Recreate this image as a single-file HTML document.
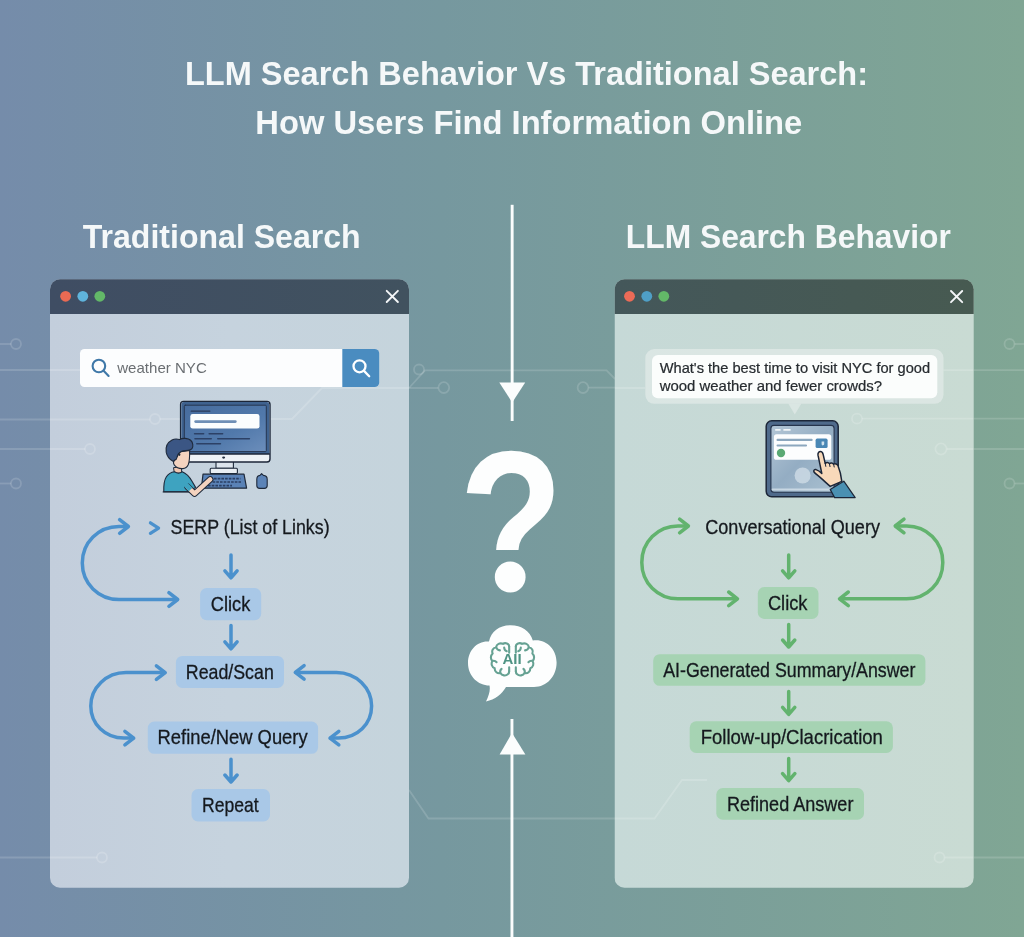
<!DOCTYPE html>
<html lang="en">
<head>
<meta charset="utf-8">
<title>LLM Search Behavior Vs Traditional Search</title>
<style>
html,body{margin:0;padding:0;background:#76989f;}
body{width:1024px;height:937px;overflow:hidden;font-family:"Liberation Sans",sans-serif;}
svg{display:block;will-change:transform;}
text{font-family:"Liberation Sans",sans-serif;}
.h{font-weight:700;fill:#f5f8f9;}
.lbl{fill:#15191e;font-size:20.7px;stroke:#15191e;stroke-width:.3px;}
.ba{fill:none;stroke:#4b91cd;stroke-width:3.5;stroke-linecap:round;stroke-linejoin:round;}
.ga{fill:none;stroke:#62b36e;stroke-width:3.5;stroke-linecap:round;stroke-linejoin:round;}
.ck{fill:none;stroke:#ffffff;stroke-opacity:.15;stroke-width:1.8;}
</style>
</head>
<body>
<svg width="1024" height="937" viewBox="0 0 1024 937">
<defs>
  <linearGradient id="bg" x1="0" y1="0" x2="1" y2="0">
    <stop offset="0" stop-color="#758caa"/>
    <stop offset="0.43" stop-color="#76989f"/>
    <stop offset="1" stop-color="#80a694"/>
  </linearGradient>
  <linearGradient id="tbL" x1="0" y1="0" x2="1" y2="0">
    <stop offset="0" stop-color="#3f4d63"/>
    <stop offset="1" stop-color="#41525f"/>
  </linearGradient>
  <linearGradient id="tbR" x1="0" y1="0" x2="1" y2="0">
    <stop offset="0" stop-color="#44575a"/>
    <stop offset="1" stop-color="#475a51"/>
  </linearGradient>
  <linearGradient id="pL" x1="0" y1="0" x2="1" y2="0">
    <stop offset="0" stop-color="#c3cedc"/>
    <stop offset="0.5" stop-color="#c6d3de"/>
    <stop offset="1" stop-color="#c5d4dc"/>
  </linearGradient>
  <linearGradient id="pR" x1="0" y1="0" x2="1" y2="0">
    <stop offset="0" stop-color="#c6d9d7"/>
    <stop offset="1" stop-color="#c9dbd3"/>
  </linearGradient>
  <clipPath id="cL"><rect x="50" y="279.3" width="359" height="608.4" rx="10"/></clipPath>
  <clipPath id="cR"><rect x="614.5" y="279.2" width="359.2" height="608.5" rx="10"/></clipPath>
</defs>

<!-- BACKGROUND -->
<rect width="1024" height="937" fill="url(#bg)"/>
<g id="circuit-bg" class="ck">
  <path d="M0 344 H11"/><circle cx="16" cy="344" r="5"/>
  <path d="M0 370 H50"/>
  <path d="M0 419.5 H50"/>
  <path d="M0 449 H50"/>
  <path d="M0 483.5 H11"/><circle cx="16" cy="483.5" r="5"/>
  <path d="M0 857.5 H50"/>
  <circle cx="419" cy="369.5" r="5"/>
  <path d="M409 388 L425 370.3 H606.6 L615 379"/>
  <path d="M409 388 H438.4"/><circle cx="443.8" cy="387.6" r="5.4"/>
  <circle cx="583" cy="387.6" r="5.4"/><path d="M588.4 387.6 H615"/>
  <path d="M409 790 L428.5 818.5 H615"/>
  <path d="M1024 344 H1014.5"/><circle cx="1009.5" cy="344" r="5"/>
  <path d="M973 418.7 H1024"/><path d="M973 370.2 H1024"/>
  <path d="M973 449 H1024"/>
  <path d="M1024 483.5 H1014.5"/><circle cx="1009.5" cy="483.5" r="5"/>
  <path d="M973 857.5 H1024"/>
</g>

<!-- TITLE -->
<text class="h" x="526.5" y="85" font-size="32.5" text-anchor="middle" textLength="683" lengthAdjust="spacingAndGlyphs">LLM Search Behavior Vs Traditional Search:</text>
<text class="h" x="528.8" y="134.2" font-size="32.5" text-anchor="middle" textLength="547" lengthAdjust="spacingAndGlyphs">How Users Find Information Online</text>

<!-- SECTION HEADINGS -->
<text class="h" x="221.7" y="248.2" font-size="32.5" text-anchor="middle" textLength="278" lengthAdjust="spacingAndGlyphs">Traditional Search</text>
<text class="h" x="788.3" y="248.2" font-size="32.5" text-anchor="middle" textLength="325" lengthAdjust="spacingAndGlyphs">LLM Search Behavior</text>

<!-- CENTER COLUMN -->
<g id="center">
  <!-- top arrow -->
  <rect x="510.7" y="204.8" width="2.9" height="216.2" fill="#fbfdfd"/>
  <path d="M499.3 382.6 L525.2 382.6 L512.2 402.5 Z" fill="#fbfdfd"/>
  <!-- bottom arrow -->
  <rect x="510.5" y="719" width="2.9" height="218" fill="#fbfdfd"/>
  <path d="M499.6 754.4 L525.4 754.4 L512 733 Z" fill="#fbfdfd"/>
  <!-- question mark -->
  <clipPath id="qclip"><rect x="440" y="430" width="140" height="126"/></clipPath>
  <g clip-path="url(#qclip)"><g transform="translate(511.0 591.7) scale(0.862 1.018)"><text id="qm" x="0" y="0" font-size="198" font-weight="700" text-anchor="middle" fill="#fdfefe">?</text></g></g>
  <circle cx="510.2" cy="577" r="15.4" fill="#fdfefe"/>
  <!-- AI cloud -->
  <g id="cloud">
    <path d="M486 701.5 C489 695 490.5 690 489.5 685.5 C478 685.5 468 676 468 663 C468 650 477.5 640.5 489 641.5 C491 631.5 499.5 625.3 510.5 625.3 C521.5 625.3 530 631 532.8 640.5 C546 638.5 556.6 649 556.6 662.5 C556.6 676 547 687 534 687 L506 687 C502 694 495 699.5 486 701.5 Z" fill="#fdfefe"/>
    <g fill="none" stroke="#66a293" stroke-width="2" stroke-linecap="round" stroke-linejoin="round" transform="translate(512.5 658.9) scale(1.04) translate(-512.5 -657.4)">
      <path d="M509.3 645.5 C509.3 642.6 505.5 641.3 503.3 643 C500.5 641.6 497 643.3 496.8 646.2 C493.8 646.6 492.2 649.6 493.4 652.2 C491.2 654.2 491.2 657.6 493.2 659.4 C491.6 662 492.6 665.4 495.4 666.4 C495.2 669.6 498 671.8 500.8 671 C502.4 673.6 506 674 508 672.2 C509 671.4 509.3 670.4 509.3 669.2"/>
      <path d="M509.3 645.5 L509.3 651.5 M509.3 665.5 L509.3 669.2"/>
      <path d="M515.7 645.5 C515.7 642.6 519.5 641.3 521.7 643 C524.5 641.6 528 643.3 528.2 646.2 C531.2 646.6 532.8 649.6 531.6 652.2 C533.8 654.2 533.8 657.6 531.8 659.4 C533.4 662 532.4 665.4 529.6 666.4 C529.8 669.6 527 671.8 524.2 671 C522.6 673.6 519 674 517 672.2 C516 671.4 515.7 670.4 515.7 669.2"/>
      <path d="M515.7 645.5 L515.7 651.5 M515.7 665.5 L515.7 669.2"/>
      <path d="M496.8 646.2 C497.4 648 498.6 649 500.4 649.2 M493.2 659.4 C494.8 659 496.2 659.4 497.2 660.6 M500.8 671 C500.4 669.4 500.8 668 502 667 M504.5 646.5 C504.5 648.5 505.5 649.5 507 650"/>
      <path d="M528.2 646.2 C527.6 648 526.4 649 524.6 649.2 M531.8 659.4 C530.2 659 528.8 659.4 527.8 660.6 M524.2 671 C524.6 669.4 524.2 668 523 667 M520.5 646.5 C520.5 648.5 519.5 649.5 518 650"/>
    </g>
    <text x="512" y="664.2" font-size="15.4" font-weight="700" text-anchor="middle" fill="#4f9484" textLength="19.2" lengthAdjust="spacingAndGlyphs">AII</text>
  </g>
</g>

<!-- LEFT PANEL -->
<g id="left-panel">
  <g clip-path="url(#cL)">
    <rect x="50" y="279" width="359" height="609" fill="url(#pL)"/>
    <g id="circuit-left" fill="none" stroke="#ffffff" stroke-opacity=".17" stroke-width="1.8">
      <path d="M50 370 H80"/>
      <path d="M50 419.5 H150"/><circle cx="155" cy="419" r="5"/>
      <path d="M160 419 H292 L322 388 H409"/>
      <path d="M50 449 H85"/><circle cx="90" cy="449" r="5"/>
      <path d="M50 857.5 H97"/><circle cx="102" cy="857.5" r="5"/>
    </g>
    <rect x="50" y="279" width="359" height="35" fill="url(#tbL)"/>
  </g>
  <circle cx="65.6" cy="296.3" r="5.4" fill="#e96a53"/>
  <circle cx="82.8" cy="296.3" r="5.4" fill="#5fb4dc"/>
  <circle cx="99.8" cy="296.3" r="5.4" fill="#63b868"/>
  <path d="M386.7 290.8 L397.9 302 M397.9 290.8 L386.7 302" stroke="#f4f6f8" stroke-width="1.9" stroke-linecap="round" fill="none"/>

  <!-- search bar -->
  <rect x="80" y="349" width="299.3" height="38" rx="4.5" fill="#fcfdfe"/>
  <path d="M342.3 349 H374.8 A4.5 4.5 0 0 1 379.3 353.5 V382.5 A4.5 4.5 0 0 1 374.8 387 H342.3 Z" fill="#4a8cc0"/>
  <g fill="none" stroke="#3f78a8" stroke-width="2.1" stroke-linecap="round">
    <circle cx="98.9" cy="366" r="6.3"/>
    <path d="M103.6 370.8 L108.6 376"/>
  </g>
  <g fill="none" stroke="#ffffff" stroke-width="2.3" stroke-linecap="round">
    <circle cx="359.5" cy="366.3" r="6"/>
    <path d="M364 370.9 L369.2 376.2"/>
  </g>
  <text x="117.2" y="373.3" font-size="14.6" fill="#6a6e72" textLength="89.6" lengthAdjust="spacingAndGlyphs">weather NYC</text>

  <g id="illus-left" stroke-linejoin="round" stroke-linecap="round">
    <defs>
      <linearGradient id="mscr" x1="0" y1="0" x2="1" y2="1">
        <stop offset="0" stop-color="#476c9e"/>
        <stop offset="0.6" stop-color="#5179ab"/>
        <stop offset="1" stop-color="#6c8ebb"/>
      </linearGradient>
    </defs>
    <!-- stand -->
    <path d="M216 461.5 H233.4 V468.4 H216 Z" fill="#dde4ec" stroke="#1f2a3b" stroke-width="1.1"/>
    <rect x="210.2" y="468.2" width="27.2" height="5.4" rx="1" fill="#e9eef3" stroke="#1f2a3b" stroke-width="1.1"/>
    <!-- monitor -->
    <rect x="180.6" y="401.4" width="89.4" height="60.6" rx="3" fill="#eef2f6" stroke="#1c2638" stroke-width="1.4"/>
    <path d="M181.3 404.4 A2.4 2.4 0 0 1 183.7 402.1 H266.9 A2.4 2.4 0 0 1 269.3 404.4 V454 H181.3 Z" fill="#3f628f"/>
    <rect x="184.3" y="405.2" width="82" height="46.4" rx="1" fill="url(#mscr)" stroke="#263650" stroke-width="1"/>
    <path d="M181.3 454 H269.3" stroke="#1c2638" stroke-width="1.6" fill="none"/>
    <ellipse cx="223.6" cy="457.6" rx="1.5" ry="1.1" fill="#232d3f"/>
    <path d="M191.2 411.2 H209.8" stroke="#2a3a58" stroke-width="1.3" fill="none"/>
    <rect x="190.3" y="414" width="69.2" height="14.6" rx="2.4" fill="#fbfdfe"/>
    <path d="M195.6 421.6 H235.4" stroke="#6f8fb6" stroke-width="2.6" fill="none"/>
    <g stroke="#2c4166" stroke-width="1.6" fill="none">
      <path d="M194.6 433.8 H203.6 M209.2 433.8 H222.6"/>
      <path d="M195 438.8 H211.2 M217.8 438.8 H249.4"/>
      <path d="M196.8 443.8 H220.4"/>
    </g>
    <!-- keyboard -->
    <path d="M203 474.2 H244 L246.6 488.2 H201.4 Z" fill="#5a82b6" stroke="#1f2a3b" stroke-width="1.2"/>
    <path d="M214 478.6 H240.4 M212.6 482 H241 M208 485.6 H232" stroke="#2b3f63" stroke-width="1.7" fill="none" stroke-dasharray="2.6 1.1" stroke-linecap="butt"/>
    <!-- mouse -->
    <path d="M256.8 479.2 C256.8 476.6 258.6 475.6 260 475.4 L261.6 473.6 L263.4 475.4 C265.2 475.6 267.2 476.6 267.2 479.2 V485.6 C267.2 487.4 266 488.4 264.4 488.4 H259.6 C258 488.4 256.8 487.4 256.8 485.6 Z" fill="#5c84b8" stroke="#1f2a3b" stroke-width="1.1"/>
    <!-- person -->
    <path d="M173.6 468 L174.4 473.4 L181.8 473.4 L181.4 467.4 Z" fill="#f0c6b0" stroke="#1f2a3b" stroke-width="1"/>
    <path d="M163.8 491.8 C163.6 485.6 164 480.4 166.4 476.8 C168.4 473.8 171.6 472.2 174.6 471.8 C177.2 473.6 179.8 473.6 182.2 471.8 C186.2 473.4 189.4 476.8 192 481.2 L195.6 487.4 L188.8 491.8 Z" fill="#3ea3c0" stroke="#1f2a3b" stroke-width="1.1"/>
    <path d="M163.2 491.9 H189" stroke="#1f2a3b" stroke-width="1.2" fill="none"/>
    <path d="M187.6 486.8 L194.6 493.6 L210.2 479.4" stroke="#1f2a3b" stroke-width="6.6" fill="none"/>
    <path d="M187.6 486.8 L194.6 493.6 L210.2 479.4" stroke="#f4d3bf" stroke-width="4.5" fill="none"/>
    <path d="M184.6 483.6 L190.6 489.6" stroke="#3ea3c0" stroke-width="5" fill="none" stroke-linecap="butt"/>
    <path d="M175.2 459.8 C173.6 461 173.2 463.4 174.4 465.2 C176.4 467.8 179.4 468.8 182.8 468.6 C185.4 468.4 187.2 467 188.2 464.8 C189.4 461.8 189.8 457.6 189.6 450.4 L179 452 Z" fill="#f4d3bf" stroke="#1f2a3b" stroke-width="1.1"/>
    <path d="M173.4 461.6 C170 459.8 167 456.6 166.2 452.2 C165.4 447 167.6 442.4 172 440 C174.6 438.6 177.4 438.8 179.6 439.6 C181.4 438.4 183.4 438.2 185.4 438.4 C189.2 438.8 192.4 441 192.8 444.6 C193.2 448 191 450 188.2 450.4 C185.4 450.8 183.4 450.4 181.2 451.6 C178.6 453 177.4 455.2 177 457.4 C176.6 459 176 459.8 175.2 459.8 C174 460 173.6 460.8 173.4 461.6 Z" fill="#3b5684" stroke="#1f2a3b" stroke-width="1.1"/>
    <ellipse cx="179.4" cy="454.6" rx="1" ry="1.3" fill="#1f2a3b"/>
  </g>

  <!-- flow -->
  <g id="flow-left">
    <path class="ba" d="M150.4 522.8 L158.6 528.1 L150.4 533.4" style="stroke-width:3.2"/>
    <text class="lbl" x="250.1" y="534.2" text-anchor="middle" textLength="159" lengthAdjust="spacingAndGlyphs">SERP (List of Links)</text>

    <path class="ba" d="M231 555.0 V576.8 M224.9 570.8 L231 577.8 L237.1 570.8"/>
    <rect x="200.1" y="588" width="61.1" height="32.2" rx="6.5" fill="#a9c8e7"/>
    <text class="lbl" x="230.6" y="611.2" text-anchor="middle" textLength="39.5" lengthAdjust="spacingAndGlyphs">Click</text>

    <path class="ba" d="M127.6 526.5 H119 C98.5 526.5 82.3 542.5 82.3 563 C82.3 583.5 98.5 599.5 119 599.5 H176.8"/>
    <path class="ba" d="M119.6 519.7 L128.4 526.5 L119.6 533.3"/>
    <path class="ba" d="M168.9 592.7 L177.7 599.5 L168.9 606.3"/>

    <path class="ba" d="M231 625.6 V647.8 M224.9 641.8 L231 648.8 L237.1 641.8"/>
    <rect x="175.9" y="655.9" width="108.1" height="32" rx="6.5" fill="#a9c8e7"/>
    <text class="lbl" x="229.8" y="678.8" text-anchor="middle" textLength="88" lengthAdjust="spacingAndGlyphs">Read/Scan</text>

    <rect x="147.8" y="721.6" width="170.3" height="32.2" rx="6.5" fill="#a9c8e7"/>
    <text class="lbl" x="232.6" y="744.4" text-anchor="middle" textLength="150" lengthAdjust="spacingAndGlyphs">Refine/New Query</text>

    <path class="ba" d="M164.4 672.6 H126 C106 672.6 90.8 688 90.8 706 C90.8 724 105 738.1 124 738.1 H132.8"/>
    <path class="ba" d="M156.4 665.8 L165.2 672.6 L156.4 679.4"/>
    <path class="ba" d="M124.9 731.3 L133.7 738.1 L124.9 744.9"/>

    <path class="ba" d="M296.2 672.4 H336.4 C356.4 672.4 371.6 688 371.6 706 C371.6 724 357.4 738.1 338.4 738.1 H330.9"/>
    <path class="ba" d="M304.1 665.6 L295.3 672.4 L304.1 679.2"/>
    <path class="ba" d="M338.8 731.3 L330.0 738.1 L338.8 744.9"/>

    <path class="ba" d="M231 759.2 V781.0 M224.9 775.0 L231 782.0 L237.1 775.0"/>
    <rect x="191.5" y="789" width="78.5" height="32.5" rx="6.5" fill="#a9c8e7"/>
    <text class="lbl" x="230.4" y="811.6" text-anchor="middle" textLength="56.6" lengthAdjust="spacingAndGlyphs">Repeat</text>
  </g>
</g>

<!-- RIGHT PANEL -->
<g id="right-panel">
  <g clip-path="url(#cR)">
    <rect x="614.5" y="279" width="360" height="609" fill="url(#pR)"/>
    <g id="circuit-right" fill="none" stroke="#ffffff" stroke-opacity=".17" stroke-width="1.8">
      <path d="M615 388 H645"/>
      <circle cx="857" cy="418.7" r="5"/><path d="M862 418.7 H973"/><path d="M943.5 370.2 H973"/>
      <circle cx="941" cy="449" r="5.6"/><path d="M946.6 449 H973"/>
      <path d="M615 818.5 H654.5 L682 780 H707"/>
      <circle cx="939.5" cy="857.5" r="5"/><path d="M944.5 857.5 H973"/>
    </g>
    <rect x="614.5" y="279" width="360" height="35" fill="url(#tbR)"/>
  </g>
  <circle cx="629.5" cy="296.3" r="5.4" fill="#ec6b57"/>
  <circle cx="646.8" cy="296.3" r="5.4" fill="#4f9fc6"/>
  <circle cx="663.8" cy="296.3" r="5.4" fill="#63b868"/>
  <path d="M951 291 L962.2 302.2 M962.2 291 L951 302.2" stroke="#f4f6f8" stroke-width="1.9" stroke-linecap="round" fill="none"/>

  <!-- chat bubble -->
  <rect x="645.3" y="349" width="298.2" height="54.8" rx="9" fill="#e6eeec" fill-opacity=".62"/>
  <path d="M788.2 403.4 H801.4 L794.8 414.6 Z" fill="#dfe9e6" fill-opacity=".8"/>
  <rect x="652" y="355" width="285.3" height="43.3" rx="6" fill="#fbfdfc"/>
  <text x="659.7" y="372.9" font-size="14.4" fill="#272c30" stroke="#272c30" stroke-width=".22" textLength="270.4" lengthAdjust="spacingAndGlyphs">What's the best time to visit NYC for good</text>
  <text x="659.7" y="390.5" font-size="14.4" fill="#272c30" stroke="#272c30" stroke-width=".22" textLength="222.3" lengthAdjust="spacingAndGlyphs">wood weather and fewer crowds?</text>

  <g id="illus-right" stroke-linejoin="round" stroke-linecap="round">
    <defs>
      <linearGradient id="scr" x1="0" y1="0" x2="1" y2="1">
        <stop offset="0" stop-color="#b3c6d6"/>
        <stop offset="0.5" stop-color="#94adc3"/>
        <stop offset="1" stop-color="#a9c0d0"/>
      </linearGradient>
    </defs>
    <rect x="766.2" y="420.8" width="72" height="76" rx="5.5" fill="#4f6a8b" stroke="#1c2638" stroke-width="1.5"/>
    <rect x="770.9" y="425.4" width="63.2" height="66.8" rx="3" fill="url(#scr)" stroke="#26344c" stroke-width="1.1"/>
    <path d="M772.6 489.6 H832.4" stroke="#d5e1ea" stroke-opacity=".8" stroke-width="2" fill="none"/>
    <path d="M775.2 429.8 H780.6 M783.4 429.8 H790.6" stroke="#f1f5f8" stroke-width="1.7" fill="none" stroke-linecap="butt"/>
    <rect x="773.9" y="434.2" width="57.4" height="25.6" rx="2.6" fill="#fcfdfe"/>
    <path d="M777.6 439.9 H811.6 M777.6 445.5 H806" stroke="#8ca7be" stroke-width="2.2" fill="none"/>
    <rect x="815.6" y="438.6" width="12" height="9.4" rx="1.6" fill="#4a87b5"/>
    <path d="M821.6 441.6 H824.2 V444 C824.2 445 823.2 445.4 822.6 445.4 C822 445.4 821.6 444.8 821.6 444 Z" fill="#cfe2ee"/>
    <circle cx="781" cy="453" r="4.2" fill="#5aa974"/>
    <circle cx="802.6" cy="475.5" r="8" fill="#cbd9e4" fill-opacity=".85"/>
    <!-- sleeve -->
    <path d="M830.2 489.4 L843.8 481.2 L855.2 497.6 H834.6 Z" fill="#4a90b2" stroke="#1c2638" stroke-width="1.2"/>
    <!-- hand -->
    <path d="M818 455.2 C817.6 452.8 819 451.6 820.4 451.6 C822 451.6 822.8 452.8 823.2 454.6 L825.2 463.4 C826.4 462.2 828.4 462.2 829.4 463.6 C830.6 462.6 832.6 462.8 833.6 464.2 C835 463.4 837.2 464 838 465.8 C839.6 469.6 841 474.8 841.8 481.4 L830.2 486.4 C827 483.6 823.4 480.2 820.4 477.6 C817.6 475.2 815 473.4 814 472 C813.2 470.6 814.4 469.2 816 469.6 C818 470.2 820 471.6 821.8 473.4 Z" fill="#f8d9ba" stroke="#1c2638" stroke-width="1.5"/>
    <path d="M825.2 463.4 L825.8 466.4 M829.4 463.6 L830 466.6 M833.6 464.2 L834.2 467" stroke="#1c2638" stroke-width="1" fill="none"/>
  </g>

  <!-- flow -->
  <g id="flow-right">
    <text class="lbl" x="792.6" y="534.2" text-anchor="middle" textLength="174.7" lengthAdjust="spacingAndGlyphs">Conversational Query</text>

    <path class="ga" d="M788.7 555.0 V576.8 M782.6 570.8 L788.7 577.8 L794.8 570.8"/>
    <rect x="757.8" y="587" width="60.7" height="32" rx="6.5" fill="#a6d3b3"/>
    <text class="lbl" x="787.7" y="610.3" text-anchor="middle" textLength="39.5" lengthAdjust="spacingAndGlyphs">Click</text>

    <path class="ga" d="M687.6 526 H678 C657.6 526 641.8 542 641.8 562.4 C641.8 582.8 657.6 598.8 678 598.8 H736.6"/>
    <path class="ga" d="M679.6 519.2 L688.4 526.0 L679.6 532.8"/>
    <path class="ga" d="M728.7 592.0 L737.5 598.8 L728.7 605.6"/>

    <path class="ga" d="M896 526 H906.6 C927 526 942.8 542 942.8 562.4 C942.8 582.8 927 598.8 906.6 598.8 H840.4"/>
    <path class="ga" d="M904.0 519.2 L895.2 526.0 L904.0 532.8"/>
    <path class="ga" d="M848.3 592.0 L839.5 598.8 L848.3 605.6"/>

    <path class="ga" d="M788.7 624.6 V646.0 M782.6 640.0 L788.7 647.0 L794.8 640.0"/>
    <rect x="653.2" y="654.2" width="272.2" height="31.6" rx="6.5" fill="#a6d3b3"/>
    <text class="lbl" x="789.3" y="677.1" text-anchor="middle" textLength="252.3" lengthAdjust="spacingAndGlyphs">AI-Generated Summary/Answer</text>

    <path class="ga" d="M788.7 691.6 V713.4 M782.6 707.4 L788.7 714.4 L794.8 707.4"/>
    <rect x="689.7" y="721.3" width="203.2" height="31.6" rx="6.5" fill="#a6d3b3"/>
    <text class="lbl" x="791.8" y="743.8" text-anchor="middle" textLength="182.3" lengthAdjust="spacingAndGlyphs">Follow-up/Clacrication</text>

    <path class="ga" d="M788.7 758.4 V779.6 M782.6 773.6 L788.7 780.6 L794.8 773.6"/>
    <rect x="716.3" y="788.1" width="147.7" height="31.6" rx="6.5" fill="#a6d3b3"/>
    <text class="lbl" x="790.2" y="810.7" text-anchor="middle" textLength="126.5" lengthAdjust="spacingAndGlyphs">Refined Answer</text>
  </g>
</g>
</svg>
</body>
</html>
